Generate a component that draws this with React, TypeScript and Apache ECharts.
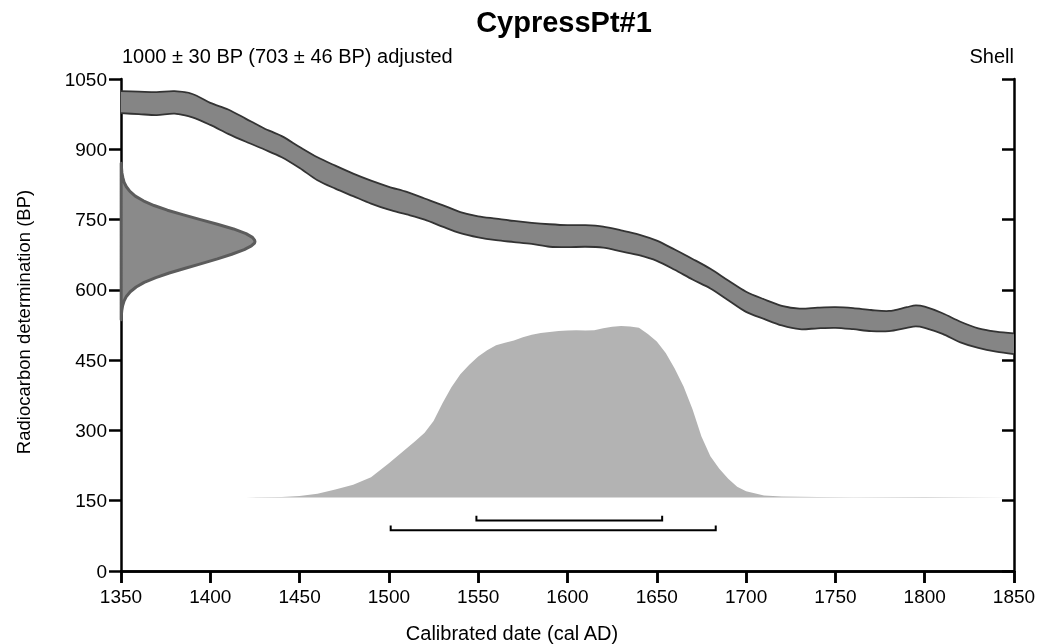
import React, { useEffect, useRef } from "react";
import * as echarts from "echarts";

// Calibration curve band (cal AD year, upper / lower BP)
const calYears = [1350, 1360, 1370, 1380, 1390, 1400, 1410, 1420, 1430, 1440, 1450, 1460, 1470, 1480, 1490, 1500, 1510, 1520, 1530, 1540, 1550, 1560, 1570, 1580, 1590, 1600, 1610, 1620, 1630, 1640, 1650, 1660, 1670, 1680, 1690, 1700, 1710, 1720, 1730, 1740, 1750, 1760, 1770, 1780, 1790, 1795, 1800, 1810, 1820, 1830, 1840, 1850];
const calUpper = [1024, 1023, 1022, 1024, 1018, 999, 985, 965, 945, 928, 905, 883, 865, 848, 833, 820, 809, 795, 781, 766, 757, 752, 747, 743, 740, 738, 738, 735, 727, 718, 705, 686, 666, 645, 620, 596, 580, 566, 560, 562, 563, 561, 557, 555, 563, 567, 564, 550, 532, 518, 511, 507];
const calLower = [977, 975, 973, 976, 968, 952, 933, 916, 900, 883, 860, 834, 816, 800, 784, 771, 761, 750, 735, 721, 712, 706, 702, 698, 692, 691, 692, 690, 682, 674, 662, 643, 622, 603, 578, 553, 538, 524, 516, 518, 519, 516, 512, 512, 519, 522, 519, 506, 488, 476, 468, 463];

// Radiocarbon determination distribution on the y axis (BP, width in years from the axis)
const detBP = [870, 860, 850, 840, 830, 820, 810, 800, 790, 780, 770, 760, 750, 740, 730, 720, 712, 706, 703, 700, 694, 686, 676, 666, 656, 646, 636, 626, 616, 606, 596, 586, 576, 566, 556, 546, 536];
const detWidth = [0.1, 0.3, 0.5, 1, 1.7, 3, 5, 8, 12.5, 18.5, 26, 35, 44.5, 54, 63, 70, 73.6, 74.8, 75, 74.8, 73, 69, 62, 54, 45, 36, 27, 19.5, 13, 8.5, 5.2, 3, 1.7, 0.9, 0.45, 0.2, 0.1];

// Calibrated date distribution (cal AD year, top edge in BP units), baseline
const postYears = [1420, 1440, 1450, 1460, 1470, 1480, 1490, 1500, 1510, 1515, 1520, 1525, 1530, 1535, 1540, 1545, 1550, 1555, 1560, 1565, 1570, 1575, 1580, 1585, 1590, 1595, 1600, 1605, 1610, 1615, 1620, 1625, 1630, 1635, 1640, 1645, 1650, 1655, 1660, 1665, 1670, 1675, 1680, 1685, 1690, 1695, 1700, 1710, 1720, 1740, 1760, 1800, 1850];
const postTop = [157, 158, 160, 165, 174, 184, 200, 230, 262, 278, 295, 320, 358, 392, 420, 440, 458, 471, 482, 487, 492, 499, 504, 508, 510, 512, 513, 514, 513, 514, 518, 521, 523, 522, 519, 506, 490, 465, 432, 394, 345, 287, 245, 218, 197, 180, 170, 161, 159, 158, 157.5, 158, 157];
const postBase = 157;

// Probability ranges (1 sigma, 2 sigma)
const rangeStart = [1549, 1501];
const rangeEnd = [1653, 1683];
const rangeLevel = [108, 87];
const rangeTick = 10;

const FONT = "'Liberation Sans', Arial, Helvetica, sans-serif";

export default function App() {
  const ref = useRef<HTMLDivElement>(null);
  useEffect(() => {
    const chart = echarts.init(ref.current!, null, { renderer: "svg" });
    const axisLine = { show: true, lineStyle: { color: "#000", width: 2.5 } };
    const tick = (inside: boolean) => ({ show: true, inside, length: 12, lineStyle: { color: "#000", width: 2.5 } });
    const label = (margin: number) => ({ color: "#000", fontSize: 19, fontFamily: FONT, margin, formatter: (v: number) => String(v) });
    const option: any = {
      animation: false,
      grid: { left: 121, right: 25, top: 79, bottom: 73, containLabel: false },
      xAxis: [
        {
          type: "value", min: 1350, max: 1850, interval: 50, position: "bottom",
          axisLine, axisTick: tick(false), axisLabel: label(16), splitLine: { show: false },
        },
        {
          type: "value", min: 1350, max: 1850, interval: 50, position: "top",
          axisLine, axisTick: tick(true), axisLabel: { show: false }, splitLine: { show: false },
        },
      ],
      yAxis: [
        {
          type: "value", min: 0, max: 1050, interval: 150, position: "left",
          axisLine, axisTick: tick(false), axisLabel: label(14), splitLine: { show: false },
        },
        {
          type: "value", min: 0, max: 1050, interval: 150, position: "right",
          axisLine, axisTick: tick(true), axisLabel: { show: false }, splitLine: { show: false },
        },
      ],
      graphic: [
        { type: "text", x: 564, y: 22, style: { text: "CypressPt#1", font: `bold 29px ${FONT}`, fill: "#000", textAlign: "center", textVerticalAlign: "middle" } },
        { type: "text", x: 122, y: 56, style: { text: "1000 ± 30 BP (703 ± 46 BP) adjusted", font: `20px ${FONT}`, fill: "#000", textAlign: "left", textVerticalAlign: "middle" } },
        { type: "text", x: 1014, y: 56, style: { text: "Shell", font: `20px ${FONT}`, fill: "#000", textAlign: "right", textVerticalAlign: "middle" } },
        { type: "text", x: 512, y: 633, style: { text: "Calibrated date (cal AD)", font: `20px ${FONT}`, fill: "#000", textAlign: "center", textVerticalAlign: "middle" } },
        { type: "text", x: 23, y: 322, rotation: Math.PI / 2, style: { text: "Radiocarbon determination (BP)", font: `18.5px ${FONT}`, fill: "#000", textAlign: "center", textVerticalAlign: "middle" } },
      ],
      series: [
        {
          type: "custom", name: "posterior", xAxisIndex: 0, yAxisIndex: 0, silent: true, z: 1,
          data: [[postYears[0], postTop[0]]],
          renderItem: (_p: any, api: any) => {
            const pts: number[][] = postYears.map((yr, i) => api.coord([yr, postTop[i]]));
            pts.push(api.coord([postYears[postYears.length - 1], postBase]));
            pts.push(api.coord([postYears[0], postBase]));
            return { type: "polygon", shape: { points: pts }, style: { fill: "#b3b3b3", stroke: "none" } };
          },
        },
        {
          type: "custom", name: "calibration", xAxisIndex: 0, yAxisIndex: 0, silent: true, z: 2,
          data: [[calYears[0], calUpper[0]]],
          renderItem: (_p: any, api: any) => {
            const up: number[][] = calYears.map((yr, i) => api.coord([yr, calUpper[i]]));
            const lo: number[][] = calYears.map((yr, i) => api.coord([yr, calLower[i]]));
            const poly = up.concat(lo.slice().reverse());
            return {
              type: "group",
              children: [
                { type: "polygon", shape: { points: poly }, style: { fill: "#858585", stroke: "none" } },
                { type: "polyline", shape: { points: up, smooth: 0.3 }, style: { stroke: "#333333", lineWidth: 1.8, fill: "none" } },
                { type: "polyline", shape: { points: lo, smooth: 0.3 }, style: { stroke: "#333333", lineWidth: 1.8, fill: "none" } },
              ],
            };
          },
        },
        {
          type: "custom", name: "determination", xAxisIndex: 0, yAxisIndex: 0, silent: true, z: 3,
          data: [[1350, detBP[0]]],
          renderItem: (_p: any, api: any) => {
            const pts: number[][] = detBP.map((bp, i) => api.coord([1350 + detWidth[i], bp]));
            return { type: "polygon", shape: { points: pts }, style: { fill: "#8a8a8a", stroke: "#5c5c5c", lineWidth: 3, lineJoin: "round" } };
          },
        },
        {
          type: "custom", name: "ranges", xAxisIndex: 0, yAxisIndex: 0, silent: true, z: 4,
          data: rangeStart.map((s, i) => [s, rangeEnd[i], rangeLevel[i]]),
          encode: { x: [0, 1], y: 2 },
          renderItem: (_p: any, api: any) => {
            const s = api.value(0), e = api.value(1), lv = api.value(2);
            const pts = [
              api.coord([s, lv + rangeTick]), api.coord([s, lv]),
              api.coord([e, lv]), api.coord([e, lv + rangeTick]),
            ];
            return { type: "polyline", shape: { points: pts }, style: { stroke: "#000", lineWidth: 2, fill: "none" } };
          },
        },
      ],
    };
    chart.setOption(option);
    return () => chart.dispose();
  }, []);
  return <div ref={ref} style={{ position: "fixed", left: 0, top: 0, width: 1039, height: 644 }} />;
}
